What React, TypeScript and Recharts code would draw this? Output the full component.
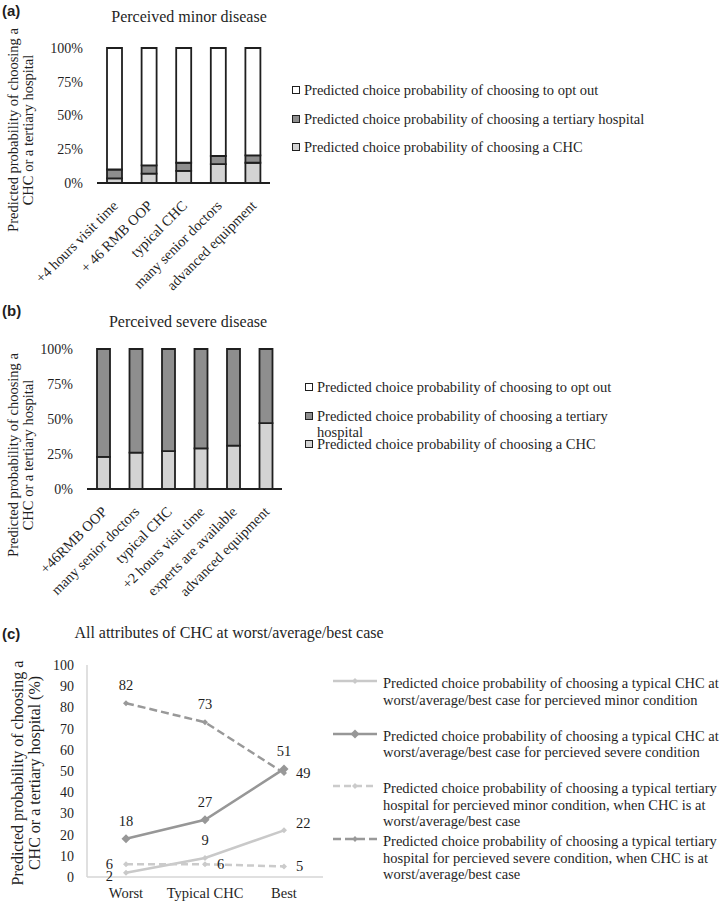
import React from 'react';
import {Bar, BarChart, LabelList, Legend, Line, LineChart, XAxis, YAxis} from 'recharts';

const SERIF = '"Liberation Serif", "DejaVu Serif", "Times New Roman", Times, serif';
const SANS = '"Liberation Sans", Arial, sans-serif';
const INK = '#1f1f1f';

// (a) perceived minor disease, shares in %
const minorAttributes = ['+4 hours visit time', '+ 46 RMB OOP', 'typical CHC', 'many senior doctors', 'advanced equipment'];
const minorCHC = [3.5, 7, 9, 14, 15];
const minorTertiary = [6.5, 6, 6, 6, 5.5];
const minorOptOut = [90, 87, 85, 80, 79.5];

// (b) perceived severe disease, shares in %
const severeAttributes = ['+46RMB OOP', 'many senior doctors', 'typical CHC', '+2 hours visit time', 'experts are available', 'advanced equipment'];
const severeCHC = [23, 26, 27, 29, 31, 47];
const severeTertiary = [77, 74, 73, 71, 69, 53];
const severeOptOut = [0, 0, 0, 0, 0, 0];

const percentTicks = [0, 25, 50, 75, 100];

// (c) all attributes of CHC at worst/average/best case
const cases = ['Worst', 'Typical CHC', 'Best'];
const chcMinor = [2, 9, 22];
const chcSevere = [18, 27, 51];
const tertiaryMinor = [6, 6, 5];
const tertiarySevere = [82, 73, 49];
const caseTicks = [0, 10, 20, 30, 40, 50, 60, 70, 80, 90, 100];

const minorData = minorAttributes.map((name, i) => ({
    name, chc: minorCHC[i], tertiary: minorTertiary[i], optOut: minorOptOut[i]
}));
const severeData = severeAttributes.map((name, i) => ({
    name, chc: severeCHC[i], tertiary: severeTertiary[i], optOut: severeOptOut[i]
}));
const caseData = cases.map((name, i) => ({
    name, chcMinor: chcMinor[i], chcSevere: chcSevere[i],
    tertiaryMinor: tertiaryMinor[i], tertiarySevere: tertiarySevere[i]
}));

const barColors = {chc: '#d3d3d3', tertiary: '#8e8e8e', optOut: '#ffffff'};

const lineStyles = {
    chcMinor: {color: '#c9c9c9', dash: undefined, dot: 3},
    chcSevere: {color: '#979797', dash: undefined, dot: 4.5},
    tertiaryMinor: {color: '#cbcbcb', dash: '7 4', dot: 3},
    tertiarySevere: {color: '#999999', dash: '8 4', dot: 3},
};

// where each point label sits relative to its point
const labelPlaces = {
    chcMinor: ['left-low', 'above', 'right-up'],
    chcSevere: ['above', 'above', 'above'],
    tertiaryMinor: ['left', 'right', 'right'],
    tertiarySevere: ['above', 'above', 'right'],
};

const SlantTick = ({x, y, payload}) => (
    <g transform={`translate(${x + 1},${y + 12})`}>
        <text textAnchor="end" transform="rotate(-45)" dy="0.35em" fontSize={14.5} fontFamily={SERIF} fill={INK}>
            {payload.value}
        </text>
    </g>
);

const AxisTitle = ({lines, cx, cy, gap, size}) => (
    <text transform={`translate(${cx},${cy}) rotate(-90)`} textAnchor="middle" fontSize={size}
          fontFamily={SERIF} fill={INK}>
        {lines.map((l, i) => (
            <tspan key={i} x={0} y={(i - (lines.length - 1) / 2) * gap} dominantBaseline="central">{l}</tspan>
        ))}
    </text>
);

const BarLegend = ({payload}) => (
    <div style={{fontFamily: SERIF, fontSize: 14.5, color: INK}}>
        {[...(payload || [])].reverse().map((entry) => (
            <div key={entry.value} style={{height: 28.5, display: 'flex', alignItems: 'flex-start',
                whiteSpace: 'pre-line', lineHeight: '16px'}}>
                <span style={{width: 6, height: 6, marginTop: 4, marginRight: 4, flexShrink: 0,
                    border: `1px solid ${INK}`, background: entry.color}}/>
                <span>{entry.value}</span>
            </div>
        ))}
    </div>
);

const Diamond = ({cx, cy, size, color}) => (
    <path d={`M${cx},${cy - size}L${cx + size},${cy}L${cx},${cy + size}L${cx - size},${cy}Z`} fill={color}/>
);

const LineLegend = ({payload}) => (
    <div style={{fontFamily: SERIF, fontSize: 14.5, color: INK}}>
        {(payload || []).map((entry) => {
            const s = lineStyles[entry.dataKey];
            return (
                <div key={entry.dataKey} style={{height: 52.7, display: 'flex', alignItems: 'flex-start'}}>
                    <svg width={46} height={12} style={{flexShrink: 0, marginRight: 4}}>
                        <line x1={0} y1={6} x2={44} y2={6} stroke={s.color} strokeWidth={2.5} strokeDasharray={s.dash}/>
                        <Diamond cx={22} cy={6} size={s.dot} color={s.color}/>
                    </svg>
                    <span style={{whiteSpace: 'pre', lineHeight: '16.5px'}}>{entry.value}</span>
                </div>
            );
        })}
    </div>
);

const pointLabel = (places) => (props) => {
    const {x, y, value, index} = props;
    const p = places[index];
    let dx = 0, dy = 0, anchor = 'middle';
    if (p === 'above') dy = -18;
    if (p === 'right') { dx = 12; anchor = 'start'; }
    if (p === 'right-up') { dx = 12; dy = -7; anchor = 'start'; }
    if (p === 'left') { dx = -13; anchor = 'end'; }
    if (p === 'left-low') { dx = -13; dy = 3; anchor = 'end'; }
    return (
        <text key={`l${index}`} x={x + dx} y={y + dy} dy="0.35em" textAnchor={anchor} fontSize={14.5}
              fontFamily={SERIF} fill={INK}>{value}</text>
    );
};

const Letter = ({children, top}) => (
    <div style={{position: 'absolute', left: 2, top, fontFamily: SANS, fontWeight: 'bold', fontSize: 15, color: INK}}>
        {children}
    </div>
);

const Title = ({children, top, cx}) => (
    <div style={{position: 'absolute', left: cx - 200, width: 400, top, textAlign: 'center',
        fontFamily: SERIF, fontSize: 16, color: INK}}>
        {children}
    </div>
);

const yTitle = ['Predicted probability of choosing a', 'CHC or a tertiary hospital'];

function StackedPanel({data, names, left, right, top, bottom, barSize, legendLeft, legendTop, titleY}) {
    return (
        <BarChart width={724} height={300} data={data}
                  margin={{top, right, bottom, left}} barCategoryGap={0}>
            <XAxis dataKey="name" interval={0} height={100} tickLine={false}
                   axisLine={{stroke: INK, strokeWidth: 2}} tick={<SlantTick/>}/>
            <YAxis domain={[0, 100]} ticks={percentTicks} width={60} axisLine={false} tickLine={false}
                   tickMargin={8} tickFormatter={(v) => `${v}%`}
                   tick={{fontSize: 14, fontFamily: SERIF, fill: INK}}/>
            <Legend layout="horizontal" verticalAlign="middle" align="center" content={<BarLegend/>}
                    wrapperStyle={{left: legendLeft, top: legendTop, width: 420, height: 90}}/>
            <Bar dataKey="chc" name={names[2]} stackId="s" fill={barColors.chc} stroke={INK} strokeWidth={1.8}
                 barSize={barSize} isAnimationActive={false}/>
            <Bar dataKey="tertiary" name={names[1]} stackId="s" fill={barColors.tertiary} stroke={INK}
                 strokeWidth={1.8} barSize={barSize} isAnimationActive={false}/>
            <Bar dataKey="optOut" name={names[0]} stackId="s" fill={barColors.optOut} stroke={INK}
                 strokeWidth={1.8} barSize={barSize} isAnimationActive={false}/>
            <AxisTitle lines={yTitle} cx={20.5} cy={titleY} gap={15} size={14.5}/>
        </BarChart>
    );
}

export default function App() {
    const minorNames = [
        'Predicted choice probability of choosing to opt out',
        'Predicted choice probability of choosing a tertiary hospital',
        'Predicted choice probability of choosing a CHC',
    ];
    const severeNames = [
        'Predicted choice probability of choosing to opt out',
        'Predicted choice probability of choosing a tertiary\nhospital',
        'Predicted choice probability of choosing a CHC',
    ];
    const lineNames = {
        chcMinor: 'Predicted choice probability of choosing a typical CHC at\nworst/average/best case for percieved minor condition',
        chcSevere: 'Predicted choice probability of choosing a typical CHC at\nworst/average/best case for percieved severe condition',
        tertiaryMinor: 'Predicted choice probability of choosing a typical tertiary\nhospital for percieved minor condition, when CHC is at\nworst/average/best case',
        tertiarySevere: 'Predicted choice probability of choosing a typical tertiary\nhospital for percieved severe condition, when CHC is at\nworst/average/best case',
    };

    return (
        <div style={{position: 'absolute', left: 0, top: 0, width: 724, height: 905, background: '#fff', overflow: 'hidden'}}>
            <Letter top={2}>(a)</Letter>
            <Title top={8} cx={189}>Perceived minor disease</Title>
            <div style={{position: 'absolute', left: 0, top: 0}}>
                <StackedPanel data={minorData} names={minorNames} left={37} right={454} top={48} bottom={17}
                              barSize={15} legendLeft={292} legendTop={82} titleY={130}/>
            </div>

            <Letter top={302}>(b)</Letter>
            <Title top={313} cx={188}>Perceived severe disease</Title>
            <div style={{position: 'absolute', left: 0, top: 300}}>
                <StackedPanel data={severeData} names={severeNames} left={27} right={442} top={49} bottom={11}
                              barSize={13} legendLeft={305} legendTop={79} titleY={155}/>
            </div>

            <Letter top={625}>(c)</Letter>
            <Title top={624} cx={229}>All attributes of CHC at worst/average/best case</Title>
            <div style={{position: 'absolute', left: 0, top: 600}}>
                <LineChart width={724} height={305} data={caseData} margin={{top: 65, right: 401, bottom: 3, left: 27}}>
                    <XAxis dataKey="name" height={25} padding={{left: 39, right: 39}} tickLine={false} tickMargin={5}
                           axisLine={{stroke: '#d6d6d6', strokeWidth: 1.5}}
                           tick={{fontSize: 14.5, fontFamily: SERIF, fill: INK}}/>
                    <XAxis xAxisId="top" orientation="top" height={0} tick={false} tickLine={false}
                           axisLine={{stroke: '#d6d6d6', strokeWidth: 1.5}}/>
                    <YAxis domain={[0, 100]} ticks={caseTicks} width={60} tickLine={false} tickMargin={7}
                           axisLine={{stroke: '#d6d6d6', strokeWidth: 1.5}}
                           tick={{fontSize: 14, fontFamily: SERIF, fill: INK}}/>
                    <YAxis yAxisId="right" orientation="right" width={0} tick={false} tickLine={false}
                           axisLine={{stroke: '#d6d6d6', strokeWidth: 1.5}}/>
                    <Legend layout="horizontal" verticalAlign="middle" align="center" content={<LineLegend/>}
                            wrapperStyle={{left: 333, top: 75, width: 390, height: 220}}/>
                    {Object.keys(lineStyles).map((key) => {
                        const s = lineStyles[key];
                        return (
                            <Line key={key} dataKey={key} name={lineNames[key]} stroke={s.color} strokeWidth={2.5}
                                  strokeDasharray={s.dash} isAnimationActive={false}
                                  dot={(p) => <Diamond key={`${key}${p.index}`} cx={p.cx} cy={p.cy} size={s.dot} color={s.color}/>}
                                  activeDot={false}>
                                <LabelList dataKey={key} content={pointLabel(labelPlaces[key])}/>
                            </Line>
                        );
                    })}
                    <AxisTitle lines={['Predicted probability of choosing a', 'CHC or a tertiary hospital (%)']}
                               cx={25.5} cy={173} gap={17} size={16}/>
                </LineChart>
            </div>
        </div>
    );
}
